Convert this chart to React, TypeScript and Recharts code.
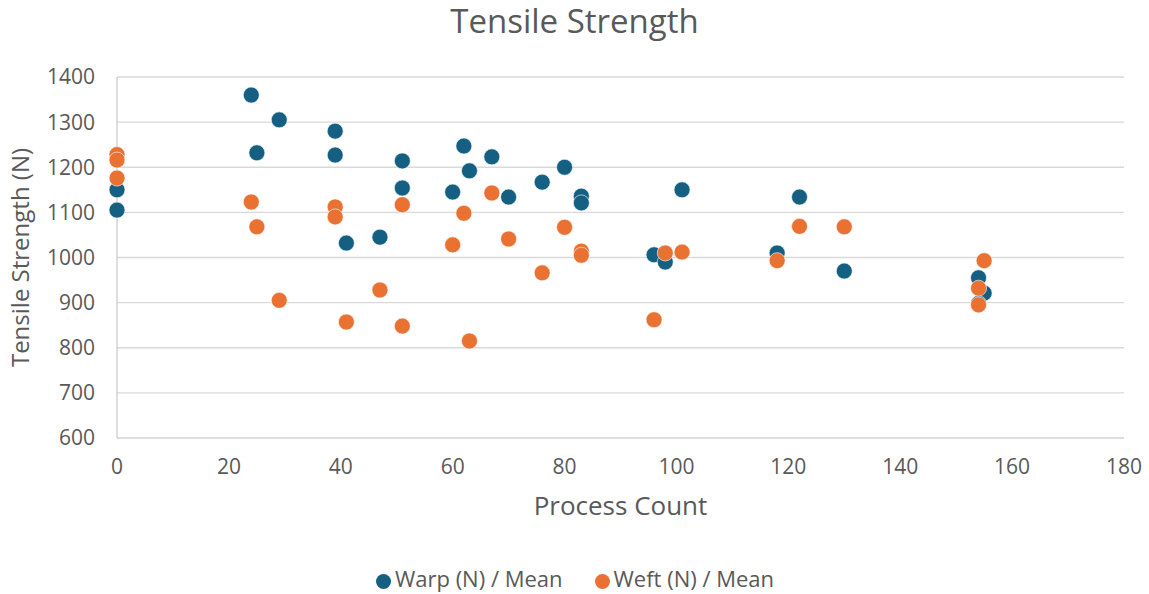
import React from "react";
import {
  ScatterChart,
  Scatter,
  XAxis,
  YAxis,
  CartesianGrid,
  Legend,
} from "recharts";

const warpX = [0, 0, 24, 25, 29, 39, 39, 41, 47, 51, 51, 60, 62, 63, 67, 70, 76, 80, 83, 83, 96, 98, 101, 118, 122, 130, 154, 155, 154];
const warpY = [1150, 1105, 1360, 1232, 1305, 1280, 1227, 1032, 1045, 1214, 1154, 1145, 1247, 1192, 1223, 1134, 1167, 1200, 1136, 1121, 1006, 990, 1150, 1010, 1134, 970, 955, 921, 898];

const weftX = [0, 0, 0, 24, 25, 29, 39, 39, 41, 47, 51, 51, 60, 62, 63, 67, 70, 76, 80, 83, 83, 96, 98, 101, 118, 122, 130, 154, 154, 155];
const weftY = [1228, 1216, 1176, 1123, 1068, 905, 1112, 1090, 857, 928, 1117, 848, 1028, 1098, 815, 1143, 1041, 966, 1067, 1014, 1005, 862, 1010, 1012, 993, 1069, 1068, 932, 895, 993];

const xTicks = [0, 20, 40, 60, 80, 100, 120, 140, 160, 180];
const yTicks = [600, 700, 800, 900, 1000, 1100, 1200, 1300, 1400];

const warp = warpX.map((x, i) => ({ x, y: warpY[i] }));
const weft = weftX.map((x, i) => ({ x, y: weftY[i] }));

const FONT = "'Open Sans', sans-serif";
const TEXT = "#595959";

const dot = (color: string) => (props: any) => (
  <circle cx={props.cx} cy={props.cy} r={8} fill={color} stroke="#fff" strokeWidth={0.6} />
);

export default function App() {
  return (
    <div style={{ position: "absolute", left: 0, top: 0, width: 1149, height: 594, background: "#fff", fontFamily: FONT }}>
      <div
        style={{
          position: "absolute",
          top: 1,
          left: 0,
          width: 1149,
          textAlign: "center",
          fontSize: 33,
          lineHeight: "40px",
          color: TEXT,
        }}
      >
        Tensile Strength
      </div>
      <ScatterChart
        width={1149}
        height={594}
        margin={{ top: 77, right: 25, left: 0, bottom: 1 }}
      >
        <CartesianGrid vertical={false} stroke="#d9d9d9" strokeWidth={1.3} />
        <XAxis
          type="number"
          dataKey="x"
          domain={[0, 180]}
          ticks={xTicks}
          height={125}
          tickSize={0}
          tickMargin={21}
          axisLine={{ stroke: "#d9d9d9" }}
          tick={{ fill: TEXT, fontSize: 21, fontFamily: FONT }}
          label={{
            value: "Process Count",
            position: "insideTop",
            offset: 59,
            fill: TEXT,
            fontSize: 26,
            fontFamily: FONT,
          }}
        />
        <YAxis
          type="number"
          dataKey="y"
          domain={[600, 1400]}
          ticks={yTicks}
          width={117}
          tickSize={0}
          tickMargin={22}
          axisLine={{ stroke: "#bfbfbf" }}
          tick={{ fill: TEXT, fontSize: 21, fontFamily: FONT }}
          label={{
            value: "Tensile Strength (N)",
            angle: -90,
            position: "center",
            dx: -38,
            fill: TEXT,
            fontSize: 24,
            fontFamily: FONT,
          }}
        />
        <Legend
          verticalAlign="bottom"
          height={30}
          iconType="circle"
          iconSize={15}
          wrapperStyle={{ fontSize: 22, fontFamily: FONT, paddingLeft: 58, boxSizing: "border-box" }}
          formatter={(value: string) => (
            <span style={{ color: TEXT, marginRight: 22 }}>{value}</span>
          )}
        />
        <Scatter
          name="Warp (N) / Mean"
          data={warp}
          fill="#156082"
          shape={dot("#156082")}
          isAnimationActive={false}
        />
        <Scatter
          name="Weft (N) / Mean"
          data={weft}
          fill="#e97132"
          shape={dot("#e97132")}
          isAnimationActive={false}
        />
      </ScatterChart>
    </div>
  );
}
